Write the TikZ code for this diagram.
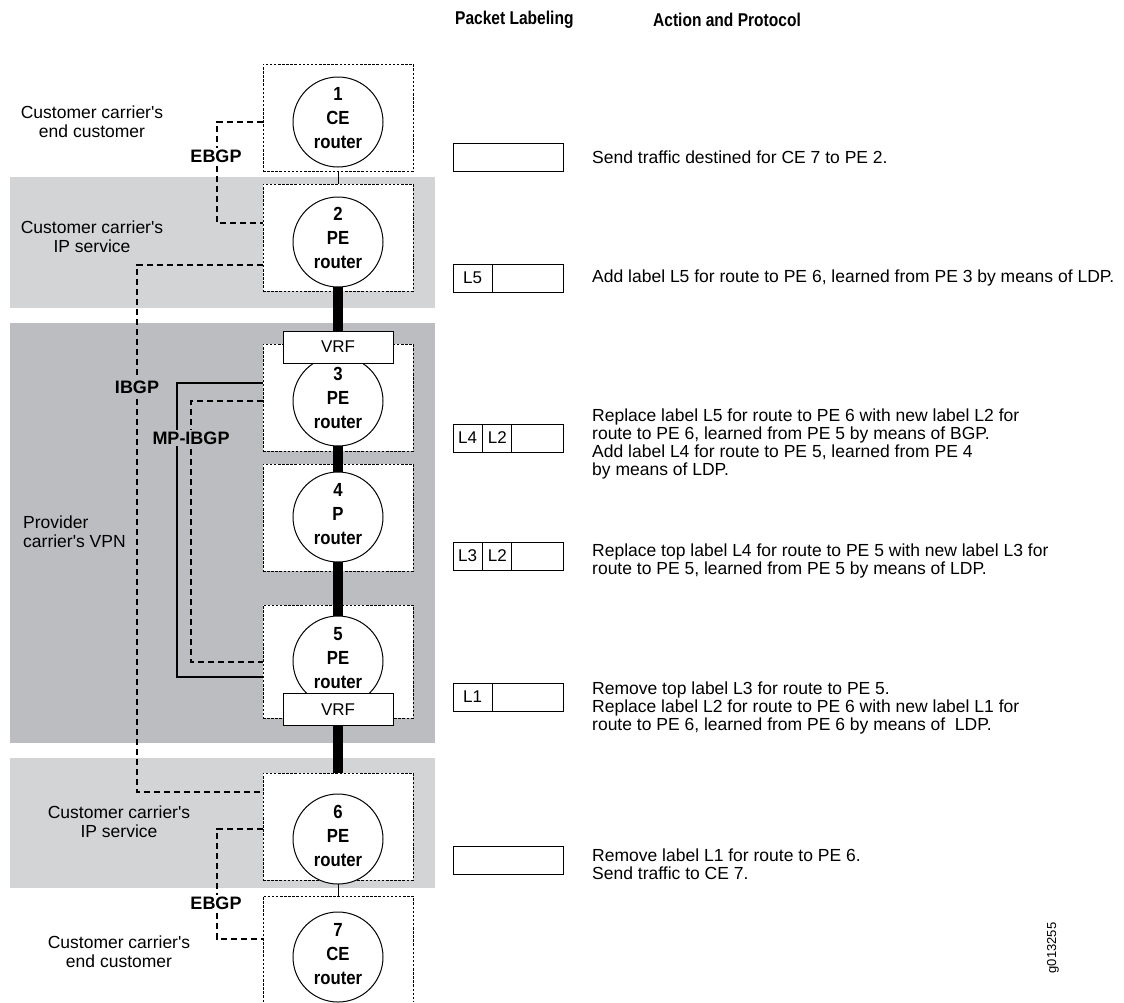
\documentclass[tikz,border=0pt]{standalone}
\usepackage{fontspec}
\setmainfont{Liberation Sans}
\newfontfamily\rfont{Liberation Sans}[FakeStretch=0.88]
\newfontfamily\hfont{Liberation Sans}[FakeStretch=0.84]
\definecolor{lightband}{HTML}{D3D4D6}
\definecolor{darkband}{HTML}{BCBDC0}
\tikzset{
  txt/.style={font=\fontsize{17.5}{18}\selectfont, inner sep=0pt},
  hdr/.style={font=\hfont\bfseries\fontsize{18.5}{20}\selectfont, inner sep=0pt},
  side/.style={font=\fontsize{17.5}{19}\selectfont, align=center, inner sep=0pt},
  rbox/.style={draw, fill=white, dash pattern=on 2.5pt off 1.6pt, line width=0.9pt, minimum width=150pt, inner sep=0pt},
  router/.style={circle, draw, fill=white, line width=1pt, minimum size=90pt, inner sep=0pt},
  rtext/.style={align=center, inner sep=0pt, font=\rfont\bfseries\fontsize{19}{24}\selectfont},
  vrf/.style={draw, fill=white, line width=1pt, minimum width=110pt, minimum height=32pt, inner sep=0pt, font=\fontsize{17}{20}\selectfont},
  conn/.style={dash pattern=on 6pt off 4pt, line width=1.1pt},
  solidconn/.style={line width=1.1pt},
  plab/.style={font=\fontsize{18}{20}\selectfont\bfseries, inner sep=1.5pt},
  pkt/.style={draw, line width=0.9pt, minimum width=110pt, minimum height=28pt, inner sep=0pt},
  cell/.style={draw, line width=0.9pt, minimum height=28pt, inner sep=0pt, font=\fontsize{17}{20}\selectfont},
}
\begin{document}
\begin{tikzpicture}[x=1pt,y=-1pt]
\useasboundingbox (0,0) rectangle (1124,1002);
% bands
\fill[lightband] (10,177) rectangle (435,308);
\fill[darkband] (10,323) rectangle (435,743);
\fill[lightband] (10,758) rectangle (435,888);
% headers
\node[hdr, anchor=west] (h1) at (455,20) {Packet Labeling};
\node[hdr, anchor=west] (h2) at (653,20) {Action and Protocol};
% dashed router boxes
\node[rbox, minimum height=107pt] (b1) at (338,117.5) {};
\node[rbox, minimum height=107pt] (b2) at (338,237.5) {};
\node[rbox, minimum height=107pt] (b3) at (338,397.5) {};
\node[rbox, minimum height=107pt] (b4) at (338,517.5) {};
\node[rbox, minimum height=113pt] (b5) at (338,661.5) {};
\node[rbox, minimum height=107pt] (b6) at (338,826.5) {};
% open box 7
\coordinate (b7nw) at (263,896);
\coordinate (b7ne) at (413,896);
\fill[white] (263,896) rectangle (413,1002);
\draw[dash pattern=on 2.5pt off 1.6pt, line width=0.9pt] (263,1002) -- (b7nw) -- (b7ne) -- (413,1002);
% links between boxes
\draw[line width=1pt] (b1.south) -- (b2.north);
\draw[line width=1pt] (b6.south) -- (338,896);
% routers
\coordinate (r2bot) at (338,287);
\draw[line width=10pt] (r2bot) -- (b6.north);
\node[router] (r1) at (338,122) {};
\node[router] (r2) at (338,242) {};
\node[router] (r3) at (338,401) {};
\node[router] (r4) at (338,517) {};
\node[router] (r5) at (338,661) {};
\node[router] (r6) at (338,839) {};
\node[router] (r7) at (338,957) {};
\node[rtext] (r1t) at ([yshift=4pt]r1.center) {1\\CE\\router};
\node[rtext] (r2t) at ([yshift=4pt]r2.center) {2\\PE\\router};
\node[rtext] (r3t) at ([yshift=3pt]r3.center) {3\\PE\\router};
\node[rtext] (r4t) at ([yshift=3pt]r4.center) {4\\P\\router};
\node[rtext] (r5t) at ([yshift=3pt]r5.center) {5\\PE\\router};
\node[rtext] (r6t) at ([yshift=3pt]r6.center) {6\\PE\\router};
\node[rtext] (r7t) at ([yshift=3pt]r7.center) {7\\CE\\router};
\node[vrf] (v3) at (338,347) {VRF};
\node[vrf] (v5) at (338,709.5) {VRF};
% connectors
\draw[conn] (b1.west |- 0,122) -- (217,122) -- (217,223) -- (b2.west |- 0,223);
\draw[conn] (b2.west |- 0,265) -- (137,265) -- (137,792) -- (b6.west |- 0,792);
\draw[solidconn] (b3.west |- 0,383) -- (177,383) -- (177,677) -- (b5.west |- 0,677);
\draw[conn] (b3.west |- 0,401) -- (191,401) -- (191,662) -- (b5.west |- 0,662);
\draw[conn] (b6.west |- 0,829) -- (217,829) -- (217,939) -- (263,939);
% protocol labels
\node[plab, fill=white] (e1) at (216,156) {EBGP};
\node[plab, fill=darkband] (ib) at (137,387) {IBGP};
\node[plab, fill=darkband] (mp) at (191,438) {MP-IBGP};
\node[plab, fill=white] (e2) at (216,903) {EBGP};
% side labels
\node[side] (s1) at (92,122) {Customer carrier\textquotesingle s\\end customer};
\node[side] (s2) at (92,237) {Customer carrier\textquotesingle s\\IP service};
\node[side, align=left, anchor=west] (s3) at (23,532) {Provider\\carrier\textquotesingle s VPN};
\node[side] (s4) at (119,822) {Customer carrier\textquotesingle s\\IP service};
\node[side] (s5) at (119,952) {Customer carrier\textquotesingle s\\end customer};
% packets
\node[pkt] (p1) at (508,157) {};
\node[pkt] (p2) at (508,278) {};
\node[cell, minimum width=39pt, anchor=west] (c21) at (p2.west) {L5};
\node[pkt] (p3) at (508,438) {};
\node[cell, minimum width=29pt, anchor=west] (c31) at (p3.west) {L4};
\node[cell, minimum width=29pt, anchor=west] (c32) at (c31.east) {L2};
\node[pkt] (p4) at (508,556) {};
\node[cell, minimum width=29pt, anchor=west] (c41) at (p4.west) {L3};
\node[cell, minimum width=29pt, anchor=west] (c42) at (c41.east) {L2};
\node[pkt] (p5) at (508,697) {};
\node[cell, minimum width=39pt, anchor=west] (c51) at (p5.west) {L1};
\node[pkt] (p6) at (508,860) {};
% actions
\node[txt, anchor=west, align=left] (t1) at (592,157) {Send traffic destined for CE 7 to PE 2.};
\node[txt, anchor=west, align=left] (t2) at (592,278) {Add label L5 for route to PE 6, learned from PE 3 by means of LDP.};
\node[txt, anchor=west, align=left] (t3) at (592,444) {Replace label L5 for route to PE 6 with new label L2 for\\route to PE 6, learned from PE 5 by means of BGP.\\Add label L4 for route to PE 5, learned from PE 4\\by means of LDP.};
\node[txt, anchor=west, align=left] (t4) at (592,561) {Replace top label L4 for route to PE 5 with new label L3 for\\route to PE 5, learned from PE 5 by means of LDP.};
\node[txt, anchor=west, align=left] (t5) at (592,708) {Remove top label L3 for route to PE 5.\\Replace label L2 for route to PE 6 with new label L1 for\\route to PE 6, learned from PE 6 by means of\ \ LDP.};
\node[txt, anchor=west, align=left] (t6) at (592,864) {Remove label L1 for route to PE 6.\\Send traffic to CE 7.};
\node[rotate=90, font=\fontsize{13}{15}\selectfont, inner sep=0pt] (gid) at (1053,948) {g013255};
\end{tikzpicture}
\end{document}
